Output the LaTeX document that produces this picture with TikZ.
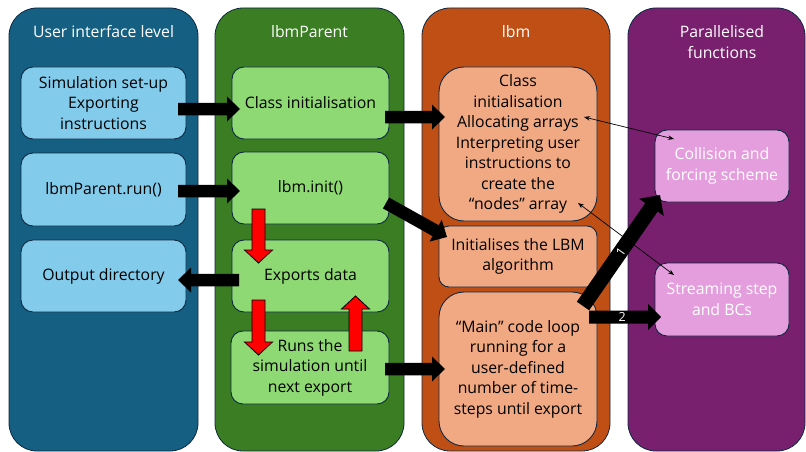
\documentclass[tikz,border=0pt]{standalone}
\usepackage{fontspec}
\setmainfont{Open Sans}
\usetikzlibrary{calc,arrows.meta}
\definecolor{colblue}{HTML}{156082}
\definecolor{colgreen}{HTML}{3A7D22}
\definecolor{colorange}{HTML}{C04F15}
\definecolor{colpurple}{HTML}{78206E}
\definecolor{boxblue}{HTML}{83CBEB}
\definecolor{boxgreen}{HTML}{8ED973}
\definecolor{boxorange}{HTML}{F1A983}
\definecolor{boxpink}{HTML}{E59EDD}
\definecolor{edge}{HTML}{0E2841}
\newcommand\myblockarrow[6][]{%
  \coordinate (mba@b) at ($(#3)!#6!(#2)$);
  \path[#1] ($(#2)!#4!90:(#3)$) -- ($(mba@b)!#4!-90:(#2)$) -- ($(mba@b)!#5!-90:(#2)$) -- (#3)
    -- ($(mba@b)!#5!90:(#2)$) -- ($(mba@b)!#4!90:(#2)$) -- ($(#2)!#4!-90:(#3)$) -- cycle;}
\begin{document}
\begin{tikzpicture}[x=1pt,y=-1pt,
  txt/.style={font=\fontsize{15.8}{20.5}\selectfont},
  column/.style={draw=edge, line width=0.8pt, rounded corners=28pt, inner sep=0pt},
  coltitle/.style={txt, text=white, align=center},
  box/.style={txt, draw=edge, line width=0.9pt, rounded corners=12pt, inner sep=0pt, align=center},
  blackarr/.style={fill=black},
  redarr/.style={fill=red, draw=black, line width=0.8pt},
  thinarr/.style={draw=black, line width=0.7pt, {Stealth[length=6pt,width=4.5pt]}-{Stealth[length=6pt,width=4.5pt]}},
  lbl/.style={text=white, font=\fontsize{12.5}{12.5}\selectfont, inner sep=0pt}]
\useasboundingbox (0,0) rectangle (806,452);
% columns
\node[column, fill=colblue, minimum width=189pt, minimum height=443pt] (c1) at (103.5,229.5) {};
\node[column, fill=colgreen, minimum width=189pt, minimum height=443pt] (c2) at (309.5,229.5) {};
\node[column, fill=colorange, minimum width=188pt, minimum height=443pt] (c3) at (516,229.5) {};
\node[column, fill=colpurple, minimum width=177pt, minimum height=443pt] (c4) at (716.5,229.5) {};
% titles
\node[coltitle] (t1) at (103.5,32) {User interface level};
\node[coltitle] (t2) at (309.5,32) {lbmParent};
\node[coltitle] (t3) at (516,32) {lbm};
\node[coltitle] (t4) at (722,42) {Parallelised\\functions};
% blue boxes
\node[box, fill=boxblue, minimum width=165pt, minimum height=72pt] (u1) at (103.5,103) {Simulation set-up\\Exporting\\instructions};
\node[box, fill=boxblue, minimum width=165pt, minimum height=73pt] (u2) at (103.5,189.5) {lbmParent.run()};
\node[box, fill=boxblue, minimum width=165pt, minimum height=72pt] (u3) at (103.5,276) {Output directory};
% green boxes
\node[box, fill=boxgreen, minimum width=157pt, minimum height=72pt] (p1) at (310.5,103) {Class initialisation};
\node[box, fill=boxgreen, minimum width=157pt, minimum height=72pt] (p2) at (310.5,188) {lbm.init()};
\node[box, fill=boxgreen, minimum width=157pt, minimum height=72pt] (p3) at (310.5,276) {Exports data};
\node[box, fill=boxgreen, minimum width=158pt, minimum height=73pt] (p4) at (310,367.5) {Runs the\\simulation until\\next export};
% orange boxes
\node[box, fill=boxorange, rounded corners=25pt, minimum width=158pt, minimum height=154pt] (l1) at (518,144) {Class\\initialisation\\Allocating arrays\\Interpreting user\\instructions to\\create the\\“nodes” array};
\node[box, fill=boxorange, rounded corners=10pt, minimum width=158pt, minimum height=61pt] (l2) at (518,256.5) {Initialises the LBM\\algorithm};
\node[box, fill=boxorange, rounded corners=25pt, minimum width=158pt, minimum height=154pt] (l3) at (518,369) {“Main” code loop\\running for a\\user-defined\\number of time-\\steps until export};
% purple boxes
\node[box, fill=boxpink, text=white, minimum width=134pt, minimum height=72pt] (f1) at (722,166) {Collision and\\forcing scheme};
\node[box, fill=boxpink, text=white, minimum width=134pt, minimum height=73pt] (f2) at (722,299.5) {Streaming step\\and BCs};
% arrow end points
\coordinate (a1s) at (178,109); \coordinate (a1e) at (240,109);
\coordinate (a2s) at (178,191); \coordinate (a2e) at (240,191);
\coordinate (a3s) at (385,117); \coordinate (a3e) at (445,117);
\coordinate (a4s) at (386,203); \coordinate (a4e) at (447,237);
\coordinate (a5s) at (239,280); \coordinate (a5e) at (178,280);
\coordinate (a6s) at (385,369); \coordinate (a6e) at (445,369);
\coordinate (a7s) at (583,306); \coordinate (a7e) at (660,195);
\coordinate (a8s) at (589,317); \coordinate (a8e) at (661,317);
\coordinate (r1s) at (258.5,209); \coordinate (r1e) at (258.5,263);
\coordinate (r2s) at (258.5,300); \coordinate (r2e) at (258.5,355);
\coordinate (r3s) at (355.5,351); \coordinate (r3e) at (355.5,296);
\coordinate (t1s) at (584,117); \coordinate (t1e) at (674,139);
\coordinate (t2s) at (578,203); \coordinate (t2e) at (674,275);
% black block arrows
\myblockarrow[blackarr]{a1s}{a1e}{6.25pt}{12.5pt}{13pt}
\myblockarrow[blackarr]{a2s}{a2e}{6.25pt}{12.5pt}{13pt}
\myblockarrow[blackarr]{a3s}{a3e}{6.25pt}{12.5pt}{13pt}
\myblockarrow[blackarr]{a4s}{a4e}{6.25pt}{12.5pt}{13pt}
\myblockarrow[blackarr]{a5s}{a5e}{6.25pt}{12.5pt}{13pt}
\myblockarrow[blackarr]{a6s}{a6e}{6.25pt}{12.5pt}{13pt}
\myblockarrow[blackarr]{a7s}{a7e}{7.5pt}{15pt}{15pt}
\myblockarrow[blackarr]{a8s}{a8e}{6.5pt}{13pt}{13pt}
% red block arrows
\myblockarrow[redarr]{r1s}{r1e}{6.5pt}{14pt}{13pt}
\myblockarrow[redarr]{r2s}{r2e}{6.5pt}{14pt}{13pt}
\myblockarrow[redarr]{r3s}{r3e}{6.5pt}{14pt}{13pt}
% thin arrows
\draw[thinarr] (t1s) -- (t1e);
\draw[thinarr] (t2s) -- (t2e);
% labels
\node[lbl, rotate=55] (n1) at ($(a7s)!0.49!(a7e)$) {1};
\node[lbl] (n2) at ($(a8s)!0.46!(a8e)$) {2};
\end{tikzpicture}
\end{document}
